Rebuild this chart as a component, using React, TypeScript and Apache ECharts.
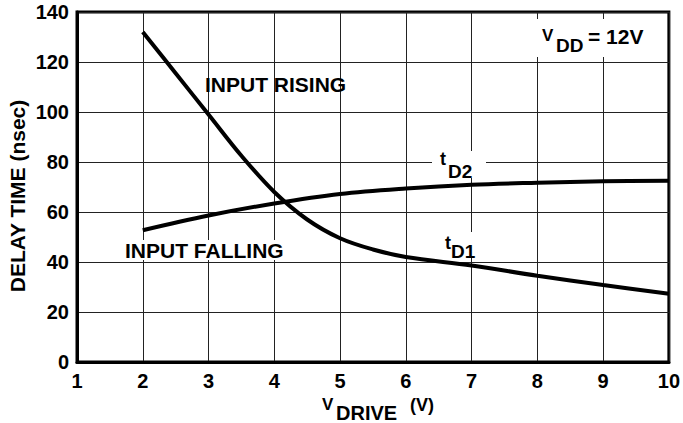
import React, { useEffect, useRef } from "react";
import * as echarts from "echarts";

// V_DRIVE (V)
const tD1X = [2, 2.5, 3, 3.5, 4, 4.5, 5, 5.5, 6, 7, 8, 9, 10];
// delay time (nsec), input rising
const tD1Y = [132, 115.5, 99, 82.5, 68, 57, 49.5, 45, 42, 38.6, 34.5, 30.8, 27.3];
const tD2X = [2, 3, 4, 5, 6, 7, 8, 9, 10];
// delay time (nsec), input falling
const tD2Y = [52.7, 58.6, 63.4, 67.2, 69.4, 70.9, 71.7, 72.3, 72.5];

const xTicks = [1, 2, 3, 4, 5, 6, 7, 8, 9, 10];
const yTicks = [0, 20, 40, 60, 80, 100, 120, 140];

const FF = '"Liberation Sans", Arial, Helvetica, sans-serif';
const font = (s: number) => `bold ${s}px ${FF}`;

export default function App() {
  const ref = useRef<HTMLDivElement>(null);
  useEffect(() => {
    if (!ref.current) return;
    const chart = echarts.init(ref.current, null, { renderer: "svg" });
    const txt = (text: string, x: number, y: number, size: number, extra: any = {}) => ({
      type: "text",
      x,
      y,
      z: 101,
      style: {
        text,
        font: font(size),
        fill: "#000",
        textAlign: "left",
        textVerticalAlign: "middle",
      },
      ...extra,
    });
    const box = (x: number, y: number, w: number, h: number) => ({
      type: "rect",
      z: 100,
      shape: { x, y, width: w, height: h },
      style: { fill: "#fff" },
    });
    chart.setOption({
      animation: false,
      grid: {
        left: 77,
        right: 13,
        top: 12,
        bottom: 61,
        show: true,
        borderColor: "#000",
        borderWidth: 3,
      },
      xAxis: {
        type: "value",
        min: xTicks[0],
        max: xTicks[xTicks.length - 1],
        interval: 1,
        axisLine: { show: true, lineStyle: { color: "#000", width: 3 } },
        axisTick: { show: false },
        axisLabel: { color: "#000", fontSize: 20, fontWeight: "bold", fontFamily: FF, margin: 9 },
        splitLine: { show: true, lineStyle: { color: "#222", width: 1 } },
      },
      yAxis: {
        type: "value",
        min: yTicks[0],
        max: yTicks[yTicks.length - 1],
        interval: 20,
        axisLine: { show: true, lineStyle: { color: "#000", width: 3 } },
        axisTick: { show: false },
        axisLabel: { color: "#000", fontSize: 20, fontWeight: "bold", fontFamily: FF, margin: 8 },
        splitLine: { show: true, lineStyle: { color: "#222", width: 1 } },
      },
      series: [
        {
          type: "line",
          data: tD1X.map((x, i) => [x, tD1Y[i]]),
          smooth: 0.35,
          showSymbol: false,
          lineStyle: { color: "#000", width: 4 },
          z: 5,
        },
        {
          type: "line",
          data: tD2X.map((x, i) => [x, tD2Y[i]]),
          smooth: 0.35,
          showSymbol: false,
          lineStyle: { color: "#000", width: 4 },
          z: 5,
        },
      ],
      graphic: [
        box(120, 240, 170, 20),
        box(432, 151, 54, 27),
        box(436, 232, 46, 25),
        box(535, 19, 120, 38),
        txt("INPUT RISING", 205, 84, 21),
        txt("INPUT FALLING", 125, 250, 21),
        txt("t", 440, 159, 18),
        txt("D2", 448, 171, 19),
        txt("t", 445, 243, 18),
        txt("D1", 451, 251, 19),
        txt("V", 542, 35, 17),
        txt("DD", 556, 45, 19),
        txt("= 12V", 588, 36, 21),
        txt("DELAY TIME (nsec)", 17, 196, 21, {
          rotation: Math.PI / 2,
          style: {
            text: "DELAY TIME (nsec)",
            font: font(21),
            fill: "#000",
            textAlign: "center",
            textVerticalAlign: "middle",
          },
        }),
        txt("V", 322, 404, 17),
        txt("DRIVE", 336, 413, 20),
        txt("(V)", 410, 405, 18),
      ],
    });
    return () => chart.dispose();
  }, []);
  return (
    <div
      ref={ref}
      style={{ position: "absolute", left: 0, top: 0, width: 683, height: 423, background: "#fff" }}
    />
  );
}
